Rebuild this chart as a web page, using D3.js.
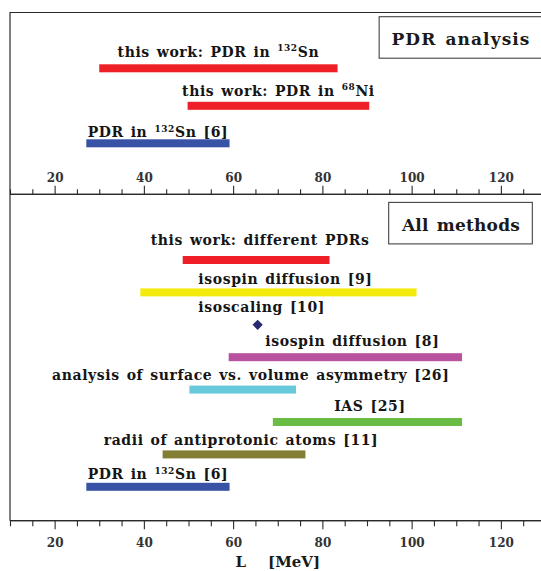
<!DOCTYPE html>
<html>
<head>
<meta charset="utf-8">
<script src="https://cdn.jsdelivr.net/npm/d3@7"></script>
<style>
  html, body { margin: 0; padding: 0; background: #fff; }
  svg { display: block; font-family: "DejaVu Serif", serif; font-weight: bold; }
</style>
</head>
<body>
<svg id="chart" width="541" height="571"></svg>
<script>
// ---- data: slope parameter L (MeV) ranges ----
const pdrLabels = ["this work: PDR in ^{132}Sn", "this work: PDR in ^{68}Ni", "PDR in ^{132}Sn [6]"];
const pdrLow  = [30.0, 49.8, 27.1];
const pdrHigh = [83.4, 90.5, 59.2];

const methodLabels = [
  "this work: different PDRs",
  "isospin diffusion [9]",
  "isoscaling [10]",
  "isospin diffusion [8]",
  "analysis of surface vs. volume asymmetry [26]",
  "IAS [25]",
  "radii of antiprotonic atoms [11]",
  "PDR in ^{132}Sn [6]"
];
const methodLow  = [48.7, 39.2, 65.5, 59.0, 50.2, 68.9, 44.2, 27.1];
const methodHigh = [81.6, 101.1, 65.5, 111.3, 74.1, 111.3, 76.2, 59.2];

const majorTicks = [20, 40, 60, 80, 100, 120];
const axisTitle = ["L", "[MeV]"];
const panelTitles = ["PDR analysis", "All methods"];

// ---- styles ----
const pdrColors = ["#ee1f27", "#ee1f27", "#3852a5"];
const methodColors = ["#ee1f27", "#f3eb0c", "#262a70", "#b8529f", "#69c9dc", "#69bd45", "#827e34", "#3852a5"];
const pdrLabelDy = [-11.6, -10.2, -6];
const pdrLabelDx = [0, 0, 0];
const methodLabelDy = [-15, -8.5, -12.4, -11.6, -9.2, -10.8, -9.8, -7.8];
const methodLabelDx = [4, 7, 4, 7, 8, 2.5, 7, 0];
const titleLetterSpacing = [1.1, 0.2];

const W = 541, H = 571;
const frameColor = "#2a2a2a";
const svg = d3.select("#chart");
svg.append("rect").attr("width", W).attr("height", H).attr("fill", "#fff");

const x = d3.scaleLinear().domain([10, 130]).range([10, 545.5]);
const minorTicks = d3.range(10, 131, 5);

const upperPanel = { y0: 12.5, y1: 194.3 };
const lowerPanel = { y0: 194.3, y1: 520.7 };

const yUpper = d3.scalePoint().domain(d3.range(pdrLabels.length)).range([68.3, 143.3]);
const yLower = d3.scalePoint().domain(d3.range(methodLabels.length)).range([260, 486.8]);
const barH = 8;

// label text with ^{...} superscripts
function writeLabel(sel, str) {
  const parts = str.split(/(\^\{[^}]*\})/).filter(s => s.length);
  let raised = false;
  parts.forEach(p => {
    if (p.startsWith("^{")) {
      sel.append("tspan").attr("font-size", "9px").attr("dy", -5.5).text(p.slice(2, -1));
      raised = true;
    } else {
      sel.append("tspan").attr("dy", raised ? 5.5 : null).text(p);
      raised = false;
    }
  });
}

// ---- frames ----
const frame = svg.append("g").attr("fill", "none").attr("stroke", frameColor).attr("stroke-width", 1.2);
frame.append("path").attr("d", `M${x(10)},${lowerPanel.y1}V${upperPanel.y0}H${W + 5}`);

// ---- upper panel axis (ticks point up, labels inside panel) ----
const axUpper = svg.append("g").attr("transform", `translate(0,${upperPanel.y1})`);
axUpper.call(d3.axisTop(x).tickValues(majorTicks).tickSize(8.6).tickPadding(4).tickFormat(d3.format("d")));
axUpper.append("g").call(d3.axisTop(x).tickValues(minorTicks.filter(v => !majorTicks.includes(v))).tickSize(5).tickFormat(""));

// ---- lower panel axis ----
const axLower = svg.append("g").attr("transform", `translate(0,${lowerPanel.y1})`);
axLower.call(d3.axisBottom(x).tickValues(majorTicks).tickSize(8.6).tickPadding(9).tickFormat(d3.format("d")));
axLower.append("g").call(d3.axisBottom(x).tickValues(minorTicks.filter(v => !majorTicks.includes(v))).tickSize(5.5).tickFormat(""));

[axUpper, axLower].forEach(a => {
  a.selectAll(".domain").attr("stroke", frameColor).attr("stroke-width", 1.2).attr("d", `M${x(10)},0H${W + 5}`);
  a.selectAll(".tick line").attr("stroke", frameColor).attr("stroke-width", 1.1);
  a.selectAll(".tick text").attr("font-family", "DejaVu Serif, serif").attr("font-weight", "bold")
    .attr("font-size", "12px").attr("fill", "#333");
});

// ---- axis title ----
const title = svg.append("text")
  .attr("x", x(70)).attr("y", 566.5).attr("text-anchor", "middle")
  .attr("font-size", "15px").attr("fill", "#1a1a1a");
title.append("tspan").text(axisTitle[0]);
title.append("tspan").attr("dx", 22).text(axisTitle[1]);

// ---- panel title boxes ----
function titleBox(txt, cx, baseline, spacing) {
  const g = svg.append("g");
  const t = g.append("text").attr("x", cx).attr("y", baseline).attr("text-anchor", "middle")
    .attr("font-size", "17px").attr("letter-spacing", spacing + "px").attr("word-spacing", "2px")
    .attr("fill", "#1a1a1a").text(txt);
  const bb = t.node().getBBox();
  g.insert("rect", "text")
    .attr("x", bb.x - 12.3).attr("y", baseline - 28.3)
    .attr("width", bb.width + 24.6).attr("height", 41.5)
    .attr("fill", "#fff").attr("stroke", "#444").attr("stroke-width", 1.1);
}
titleBox(panelTitles[0], 461, 45, titleLetterSpacing[0]);
titleBox(panelTitles[1], 461, 230.7, titleLetterSpacing[1]);

// ---- bars ----
function drawRows(labels, lo, hi, colors, yScale, dxs, dys) {
  const g = svg.append("g");
  labels.forEach((lab, i) => {
    const cy = yScale(i);
    if (lo[i] === hi[i]) {
      g.append("path")
        .attr("d", d3.symbol(d3.symbolSquare, 52)())
        .attr("transform", `translate(${x(lo[i])},${cy}) rotate(45)`)
        .attr("fill", colors[i]);
    } else {
      g.append("rect")
        .attr("x", x(lo[i])).attr("y", cy - barH / 2)
        .attr("width", x(hi[i]) - x(lo[i])).attr("height", barH)
        .attr("fill", colors[i]);
    }
    const t = g.append("text")
      .attr("x", (x(lo[i]) + x(hi[i])) / 2 + dxs[i])
      .attr("y", cy + dys[i])
      .attr("text-anchor", "middle")
      .attr("font-size", "14px").attr("letter-spacing", "0.6px").attr("word-spacing", "1.5px")
      .attr("fill", "#151515");
    writeLabel(t, lab);
  });
}
drawRows(pdrLabels, pdrLow, pdrHigh, pdrColors, yUpper, pdrLabelDx, pdrLabelDy);
drawRows(methodLabels, methodLow, methodHigh, methodColors, yLower, methodLabelDx, methodLabelDy);
</script>
</body>
</html>
